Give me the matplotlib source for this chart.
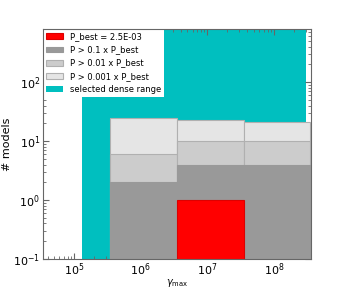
import numpy as np
import matplotlib
matplotlib.use('Agg')
import matplotlib.pyplot as plt

# bin edges in gamma_max and counts per bin for each probability cut
edges = [3.5e5, 3.5e6, 3.5e7, 3.5e8]
n_best = [0, 1, 0]
n_01 = [2, 4, 4]
n_001 = [6, 10, 10]
n_0001 = [25, 23, 21]
dense_range = (1.3e5, 3.0e8)
p_best = 2.5e-3

levels = [
    (n_0001, '#e5e5e5', '#b0b0b0', 'P > 0.001 x P_best'),
    (n_001, '#cccccc', '#b0b0b0', 'P > 0.01 x P_best'),
    (n_01, '#999999', '#999999', 'P > 0.1 x P_best'),
    (n_best, '#ff0000', '#dd0000', 'P_best = %.1E' % p_best),
]

plt.rcParams['xtick.direction'] = 'in'
plt.rcParams['ytick.direction'] = 'in'

fig = plt.figure(figsize=(3.46, 2.89), dpi=100)
ax = fig.add_axes([0.124, 0.104, 0.775, 0.796])
ax.set_xscale('log')
ax.set_yscale('log')

left = np.array(edges[:-1])
width = np.array(edges[1:]) - left

handles = {}
for counts, fc, ec, lab in levels:
    c = np.array(counts, dtype=float)
    c[c == 0] = np.nan
    b = ax.bar(left, c, width=width, align='edge', bottom=1e-3,
               facecolor=fc, edgecolor=ec, linewidth=0.8, label=lab, zorder=2)
    handles[lab] = b

span = ax.axvspan(dense_range[0], dense_range[1], facecolor='#00bfbf',
                  edgecolor='none', zorder=1, label='selected dense range')

ax.set_xlim(3.4e4, 3.6e8)
ax.set_ylim(0.1, 800)

order = [levels[3][3], levels[2][3], levels[1][3], levels[0][3]]
hs = [handles[k] for k in order] + [span]
leg = ax.legend(hs, order + ['selected dense range'], loc='upper left',
                fontsize=6, borderaxespad=0, fancybox=False, framealpha=1)
leg.get_frame().set_edgecolor('none')
leg.set_zorder(5)

for s in ax.spines.values():
    s.set_color('#666666')
    s.set_zorder(6)
ax.tick_params(which='both', top=True, right=True, colors='#666666',
               labelcolor='black', labelsize=8, pad=2)
ax.tick_params(which='major', length=4)
ax.tick_params(which='minor', length=2)

ax.set_xlabel(r'$\gamma_{\rm max}$', fontsize=7, labelpad=-1)
ax.set_ylabel('# models', fontsize=8, labelpad=1)

plt.savefig('out.png', dpi=100)
